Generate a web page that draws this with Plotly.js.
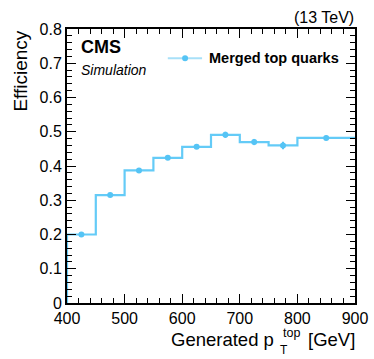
<!DOCTYPE html>
<html><head><meta charset="utf-8">
<script src="https://cdn.plot.ly/plotly-3.0.1.min.js"></script>
<style>html,body{margin:0;padding:0;background:#fff}#c{width:374px;height:359px}</style>
</head><body><div id="c"></div>
<script>
const binEdges = [400, 450, 500, 550, 600, 650, 700, 750, 800, 900];
const efficiency = [0.200, 0.315, 0.387, 0.424, 0.456, 0.491, 0.470, 0.460, 0.482];
const errors = [0.003, 0.004, 0.004, 0.004, 0.005, 0.009, 0.009, 0.011, 0.007];
const seriesName = 'Merged top quarks';
const yTickVals = [0, 0.1, 0.2, 0.3, 0.4, 0.5, 0.6, 0.7, 0.8];
const yTickText = ['0', '0.1', '0.2', '0.3', '0.4', '0.5', '0.6', '0.7', '0.8'];
const xTickVals = [400, 500, 600, 700, 800, 900];

const lineColor = '#64cbf7';
const stepX = [binEdges[0]].concat(binEdges);
const stepY = [0].concat(efficiency, [efficiency[efficiency.length-1]]);
const centers = efficiency.map((_, i) => (binEdges[i] + binEdges[i+1]) / 2);

const font = 'Liberation Sans, Arial, sans-serif';
const data = [
  {x: stepX, y: stepY, type: 'scatter', mode: 'lines', line: {shape: 'hv', color: lineColor, width: 2.2}, showlegend: false, hoverinfo: 'skip'},
  {x: centers, y: efficiency, type: 'scatter', mode: 'markers', marker: {color: '#55c4f5', size: 6},
   error_y: {type: 'data', array: errors, color: '#55c4f5', thickness: 2, width: 0}, showlegend: false}
];
const tickCommon = {ticks: 'inside', mirror: 'allticks', showline: true, linecolor: '#000', linewidth: 2, tickcolor: '#000', showgrid: false, zeroline: false, tickfont: {family: font, size: 16, color: '#000'}};
function ann(text, x, y, size, xanchor, extra) {
  return Object.assign({xref: 'paper', yref: 'paper', x: x, y: y, xanchor: xanchor, yanchor: 'middle', showarrow: false,
    text: text, font: {family: font, size: size, color: '#000'}}, extra || {});
}
const layout = {
  width: 374, height: 359,
  margin: {l: 67, r: 19, t: 29, b: 56},
  paper_bgcolor: '#fff', plot_bgcolor: '#fff',
  showlegend: false,
  xaxis: Object.assign({}, tickCommon, {range: [400, 900], tickmode: 'array', tickvals: xTickVals, ticklen: 9,
    minor: {ticks: 'inside', dtick: 20, ticklen: 5, tickcolor: '#000', showgrid: false}}),
  yaxis: Object.assign({}, tickCommon, {range: [0, 0.8], tickmode: 'array', tickvals: yTickVals, ticktext: yTickText, ticklen: 9,
    minor: {ticks: 'inside', tickmode: 'linear', tick0: 0, dtick: 0.02, ticklen: 5, tickcolor: '#000', showgrid: false}}),
  annotations: [
    ann('Efficiency', -0.16, 1.003, 19, 'center', {yanchor: 'top', textangle: -90}),
    ann('<b>CMS</b>', 0.04, 0.935, 18, 'left'),
    ann('<i>Simulation</i>', 0.04, 0.85, 14, 'left'),
    ann('(13 TeV)', 1.003, 1.005, 16, 'right', {yanchor: 'bottom'}),
    ann('<b>' + seriesName + '</b>', 0.487, 0.893, 14.5, 'left'),
    ann('Generated p', 0.727, -0.135, 18.5, 'right'),
    ann('T', 0.753, -0.203, 12, 'center', {yanchor: 'bottom'}),
    ann('top', 0.742, -0.11, 12.5, 'left'),
    ann('[GeV]', 1.008, -0.135, 18.5, 'right')
  ],
  shapes: [
    {type: 'line', xref: 'paper', yref: 'paper', x0: 0.35, x1: 0.469, y0: 0.893, y1: 0.893, line: {color: '#a8e0f8', width: 2}},
    {type: 'circle', xref: 'paper', yref: 'paper', xsizemode: 'pixel', ysizemode: 'pixel', xanchor: 0.41, yanchor: 0.893, x0: -3, x1: 3, y0: -3, y1: 3, fillcolor: '#55c4f5', line: {width: 0}}
  ]
};
Plotly.newPlot('c', data, layout, {staticPlot: true, displayModeBar: false});
</script></body></html>
